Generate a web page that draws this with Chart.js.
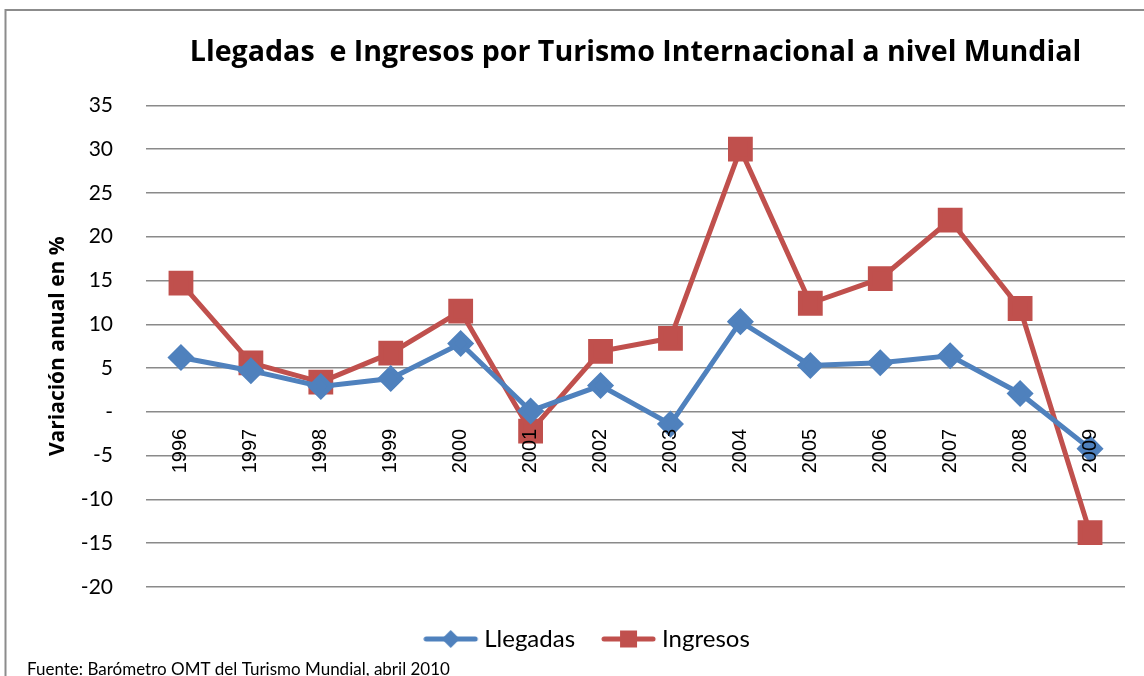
<!DOCTYPE html>
<html>
<head>
<meta charset="utf-8">
<script src="https://cdn.jsdelivr.net/npm/chart.js@4/dist/chart.umd.min.js"></script>
<style>
    html, body { margin: 0; padding: 0; background: #fff; }
    #wrap { width: 1144px; height: 676px; position: relative; }
</style>
</head>
<body>
<div id="wrap"><canvas id="turismoChart" width="1144" height="676"></canvas></div>
<script>
// Llegadas e Ingresos por Turismo Internacional
const years = ['1996', '1997', '1998', '1999', '2000', '2001', '2002', '2003', '2004', '2005', '2006', '2007', '2008', '2009'];
const llegadas = [6.2, 4.7, 2.9, 3.8, 7.8, 0.1, 3.0, -1.4, 10.3, 5.3, 5.6, 6.4, 2.1, -4.2];
const ingresos = [14.7, 5.6, 3.4, 6.7, 11.5, -2.2, 6.9, 8.4, 30.0, 12.4, 15.2, 21.9, 11.8, -13.8];
const yMin = -20, yMax = 35, yStep = 5;

const BLUE = '#4F81BD';
const RED = '#C0504D';
const CALIBRI = 'Lato, "Open Sans", sans-serif';
const BOLD = '"Open Sans", Lato, sans-serif';

// legend icon: short line with the marker in the middle
function legendIcon(color, shape) {
    const c = document.createElement('canvas');
    c.width = 63;
    c.height = 22;
    const g = c.getContext('2d');
    g.strokeStyle = color;
    g.lineWidth = 5;
    g.lineCap = 'round';
    g.beginPath();
    g.moveTo(3, 11);
    g.lineTo(52, 11);
    g.stroke();
    g.fillStyle = color;
    g.beginPath();
    if (shape === 'diamond') {
        g.moveTo(27.5, 2); g.lineTo(36.5, 11); g.lineTo(27.5, 20); g.lineTo(18.5, 11);
    } else {
        g.rect(19, 2.5, 17, 17);
    }
    g.closePath();
    g.fill();
    return c;
}
const legendIcons = [legendIcon(BLUE, 'diamond'), legendIcon(RED, 'square')];

const frameAndSource = {
    id: 'frameAndSource',
    afterDraw(chart) {
        const c = chart.ctx;
        c.save();
        c.strokeStyle = '#8c8c8c';
        c.lineWidth = 2;
        c.beginPath();
        c.moveTo(1144, 10);
        c.lineTo(5.5, 10);
        c.lineTo(5.5, 676);
        c.stroke();
        c.fillStyle = '#000';
        c.font = '17px ' + CALIBRI;
        c.textBaseline = 'alphabetic';
        c.textAlign = 'left';
        c.fillText('Fuente: Barómetro OMT del Turismo Mundial, abril 2010', 27, 675);
        c.restore();
    }
};

new Chart(document.getElementById('turismoChart').getContext('2d'), {
    type: 'line',
    data: {
        labels: years,
        datasets: [
            {
                label: 'Llegadas',
                data: llegadas,
                borderColor: BLUE,
                backgroundColor: BLUE,
                borderWidth: 5,
                pointStyle: 'rectRot',
                pointRadius: 10,
                pointHoverRadius: 10,
                tension: 0
            },
            {
                label: 'Ingresos',
                data: ingresos,
                borderColor: RED,
                backgroundColor: RED,
                borderWidth: 5,
                pointStyle: 'rect',
                pointRadius: 14,
                pointHoverRadius: 14,
                tension: 0
            }
        ]
    },
    options: {
        responsive: false,
        animation: false,
        layout: { padding: { left: 56, right: 13, top: 0, bottom: 15 } },
        plugins: {
            title: {
                display: true,
                fullSize: false,
                text: 'Llegadas  e Ingresos por Turismo Internacional a nivel Mundial',
                font: { family: BOLD, size: 28.6, weight: 'bold' },
                color: '#000',
                padding: { top: 36, bottom: 35 }
            },
            legend: {
                position: 'bottom',
                labels: {
                    font: { family: CALIBRI, size: 24 },
                    color: '#000',
                    padding: 40,
                    usePointStyle: true,
                    pointStyleWidth: 35,
                    generateLabels: chart => Chart.defaults.plugins.legend.labels.generateLabels(chart)
                        .map((item, i) => ({ ...item, pointStyle: legendIcons[i] }))
                }
            },
            tooltip: { enabled: false }
        },
        scales: {
            x: {
                position: { y: 0 },
                offset: true,
                grid: { display: false, offset: true },
                border: { display: false },
                ticks: {
                    z: 1,
                    color: '#000',
                    font: { family: '"Liberation Sans", Arial, sans-serif', size: 20 },
                    maxRotation: 90,
                    minRotation: 90,
                    padding: 9
                }
            },
            y: {
                min: yMin,
                max: yMax,
                afterFit: scale => { scale.width = 90; },
                grid: { color: '#8a8a8a', lineWidth: 1.5, drawTicks: false },
                border: { display: false },
                ticks: {
                    stepSize: yStep,
                    color: '#000',
                    font: { family: CALIBRI, size: 21 },
                    padding: 33,
                    callback: v => (v === 0 ? '-' : v)
                },
                title: {
                    display: true,
                    text: 'Variación anual en %',
                    color: '#000',
                    font: { family: BOLD, size: 21, weight: 'bold' },
                    padding: { top: -11, bottom: 0 }
                }
            }
        }
    },
    plugins: [frameAndSource]
});
</script>
</body>
</html>
